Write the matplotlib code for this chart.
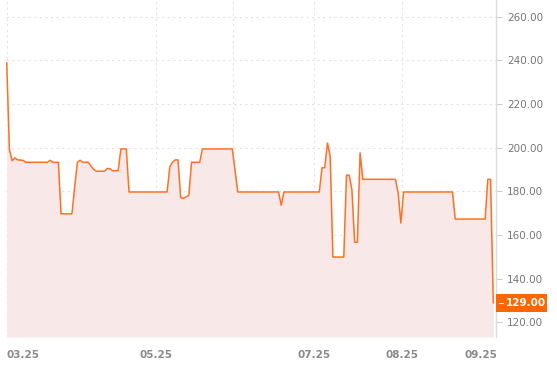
import numpy as np
import matplotlib
matplotlib.use("Agg")
import matplotlib.pyplot as plt
import matplotlib.transforms as mtransforms
from matplotlib.patches import Rectangle

# daily closing prices (one value per trading day)
prices = (
    [238.8, 199.0, 194.0, 195.3, 194.4, 194.3, 194.2]
    + [193.3] * 9 + [194.2] + [193.3] * 3
    + [169.7] * 5 + [182.0, 193.3, 194.2] + [193.3] * 3
    + [191.5, 190.0] + [189.2] * 4 + [190.5, 190.3] + [189.4] * 3
    + [199.4] * 3 + [179.7] * 15
    + [191.2, 193.3, 194.4, 194.4, 177.1, 176.8, 177.5, 178.2]
    + [193.3] * 4 + [199.4] * 12 + [189.5]
    + [179.7] * 16 + [173.6] + [179.7] * 14
    + [190.8, 190.8, 202.1, 196.0] + [149.9] * 5
    + [187.4, 187.4, 180.5, 156.7, 156.7, 197.6]
    + [185.5] * 13 + [179.4, 165.5] + [179.7] * 19
    + [167.3] * 12 + [185.5, 185.5, 129.0]
)
tick_pos = [0, 55, 113, 145.4, 174.5]
tick_labels = ["03.25", "05.25", "07.25", "08.25", "09.25"]
vgrid_pos = [0, 55, 83.3, 113, 145.4]
y_ticks = [120, 140, 160, 180, 200, 220, 240, 260]

x = np.arange(len(prices))
y = np.array(prices)

fig = plt.figure(figsize=(5.57, 3.70), dpi=100)
ax = fig.add_axes([6 / 557, 33 / 370, 490 / 557, 337 / 370])

ymin, ymax = 113.3, 267.6
ax.set_xlim(-0.26, 180)
ax.set_ylim(ymin, ymax)

# grid
for v in y_ticks:
    ax.axhline(v, color="#e3e3e3", lw=0.8, ls=(0, (2, 3)), zorder=0)
for p in vgrid_pos:
    ax.axvline(p, color="#e3e3e3", lw=0.8, ls=(0, (2, 3)), zorder=0)

ax.fill_between(x, y, ymin, color="#f8e8e8", lw=0, zorder=1)
ax.plot(x, y, color="#ff7022", lw=1.1, zorder=2)

for s in ["top", "left", "bottom"]:
    ax.spines[s].set_visible(False)
ax.spines["right"].set_color("#dddddd")
ax.spines["right"].set_linewidth(1.0)

ax.yaxis.tick_right()
ax.set_yticks(y_ticks)
ax.set_yticklabels([f"{v:.2f}" for v in y_ticks])
ax.tick_params(axis="y", length=4, width=0.8, color="#cccccc",
               labelsize=7.5, labelcolor="#777777", pad=4)

ax.set_xticks(tick_pos)
ax.set_xticklabels(tick_labels)
ax.tick_params(axis="x", length=0, labelsize=7.5, labelcolor="#8a8a8a", pad=9)
for lab in ax.get_xticklabels():
    lab.set_fontweight("bold")
ax.get_xticklabels()[0].set_horizontalalignment("left")

# last price tag on the right axis
last = prices[-1]
trans = mtransforms.blended_transform_factory(ax.transAxes, ax.transData)
px_y = (ymax - ymin) / 337.0
ax.add_patch(Rectangle((1.0, last - 9 * px_y), 51 / 490, 18 * px_y,
                       transform=trans, fc="#ff6600", ec="none",
                       clip_on=False, zorder=5))
ax.plot([1.0 + 3 / 490, 1.0 + 7 / 490], [last, last], transform=trans,
        color="white", lw=0.8, clip_on=False, zorder=6)
ax.annotate(f"{last:.2f}", xy=(1.0, last), xycoords=trans,
            xytext=(7.2, 0), textcoords="offset points",
            ha="left", va="center", fontsize=7.5, fontweight="bold",
            color="white", annotation_clip=False, zorder=7)

fig.savefig("out.png", dpi=100)
